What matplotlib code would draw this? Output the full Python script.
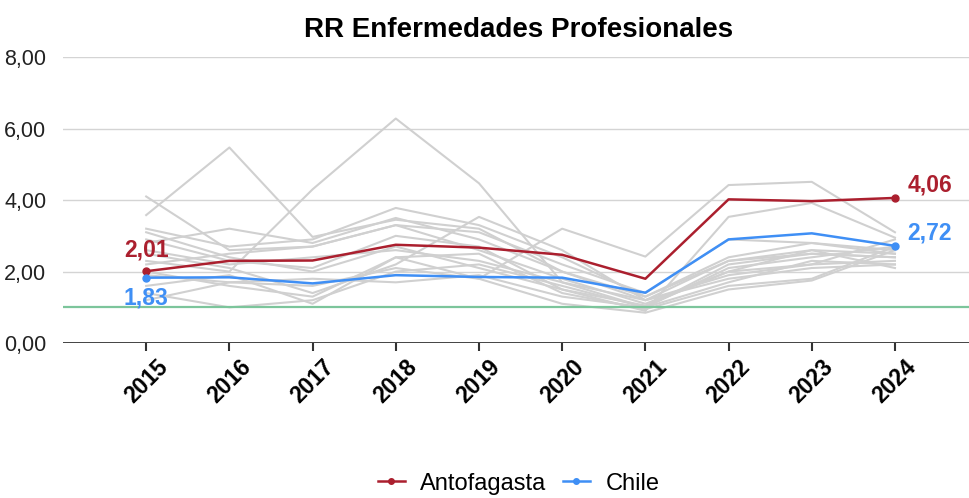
import numpy as np
import matplotlib.pyplot as plt
from matplotlib.ticker import FuncFormatter

plt.rcParams['font.family'] = ['Liberation Sans', 'DejaVu Sans']

#------------datos------------#
years = ['2015', '2016', '2017', '2018', '2019', '2020', '2021', '2022', '2023', '2024']

antofagasta = [2.01, 2.30, 2.31, 2.75, 2.67, 2.47, 1.80, 4.02, 3.97, 4.06]
chile = [1.83, 1.84, 1.67, 1.90, 1.85, 1.83, 1.41, 2.90, 3.07, 2.72]

# otras regiones (gris)
otras = [
    [3.58, 5.47, 2.97, 3.45, 3.20, 2.00, 1.30, 2.30, 2.60, 2.50],
    [4.10, 2.60, 2.70, 3.30, 3.10, 2.20, 1.40, 2.90, 2.80, 2.60],
    [2.30, 2.00, 4.30, 6.28, 4.47, 1.70, 1.00, 2.10, 2.40, 2.70],
    [2.50, 2.10, 1.40, 2.20, 3.53, 2.60, 1.20, 1.90, 2.20, 2.90],
    [3.20, 2.70, 2.90, 3.78, 3.30, 2.40, 1.30, 2.40, 2.80, 2.50],
    [2.80, 3.20, 2.80, 3.50, 2.90, 2.00, 1.20, 2.30, 2.50, 2.40],
    [2.20, 2.50, 2.70, 3.30, 2.60, 1.80, 1.10, 2.00, 2.20, 2.30],
    [1.60, 1.90, 1.10, 2.40, 2.50, 1.40, 0.95, 1.60, 1.80, 2.70],
    [1.40, 1.00, 1.20, 2.00, 2.20, 1.60, 1.00, 1.70, 2.30, 2.20],
    [2.00, 1.60, 1.30, 2.40, 1.80, 3.20, 2.42, 4.42, 4.51, 3.10],
    [3.10, 2.40, 2.00, 2.70, 2.10, 1.50, 0.90, 3.53, 3.92, 2.95],
    [1.90, 1.70, 1.80, 1.70, 1.90, 1.30, 1.00, 2.20, 2.50, 2.40],
    [2.60, 2.20, 2.40, 2.60, 2.30, 1.70, 1.20, 1.80, 2.10, 2.20],
    [1.20, 1.70, 1.60, 2.10, 1.80, 1.10, 0.85, 1.50, 1.75, 2.60],
    [2.90, 2.30, 2.10, 3.00, 2.70, 1.50, 1.05, 2.00, 2.60, 2.10],
]

referencia = 1.0
rojo = '#ab1f2e'
azul = '#3f8ff5'

#------------grafico------------#
fig = plt.figure(figsize=(9.69, 4.98), dpi=100)
ax = fig.add_axes([0.065, 0.311, 0.935, 0.5745])
x = np.arange(len(years))

for s in otras:
    ax.plot(x, s, color='#d0d0d0', lw=1.5, zorder=2)

ax.axhline(referencia, color='#7cc59b', lw=1.6, zorder=3)

ax.plot(x, antofagasta, color=rojo, lw=1.8, zorder=5, marker='o', ms=5,
        markevery=[0, len(x) - 1], label='Antofagasta')
ax.plot(x, chile, color=azul, lw=1.8, zorder=5, marker='o', ms=5,
        markevery=[0, len(x) - 1], label='Chile')

def fmt(v):
    return f'{v:.2f}'.replace('.', ',')

lab = dict(fontsize=16.5, fontweight='bold', zorder=6)
ax.annotate(fmt(antofagasta[0]), (x[0], antofagasta[0]), xytext=(0, 7),
            textcoords='offset points', ha='center', va='bottom', color=rojo, **lab)
ax.annotate(fmt(chile[0]), (x[0], chile[0]), xytext=(0, -6),
            textcoords='offset points', ha='center', va='top', color=azul, **lab)
ax.annotate(fmt(antofagasta[-1]), (x[-1], antofagasta[-1]), xytext=(9, 1),
            textcoords='offset points', ha='left', va='bottom', color=rojo, **lab)
ax.annotate(fmt(chile[-1]), (x[-1], chile[-1]), xytext=(9, 1),
            textcoords='offset points', ha='left', va='bottom', color=azul, **lab)

ax.set_ylim(0, 8)
ax.set_xlim(-1.0, 9.89)
ax.set_yticks([0, 2, 4, 6, 8])
ax.yaxis.set_major_formatter(FuncFormatter(lambda v, p: fmt(v)))
ax.grid(axis='y', color='#d4d4d4', lw=1)
ax.set_axisbelow(True)
ax.axhline(0, color='#333333', lw=2, zorder=4)

ax.set_xticks(x)
ax.set_xticklabels(years, rotation=45, fontsize=16.5, fontweight='bold')
ax.tick_params(axis='x', length=6, width=1.5, color='#333333', pad=3)
ax.tick_params(axis='y', length=0, labelsize=15.5, pad=12, labelcolor='#222222')
for sp in ax.spines.values():
    sp.set_visible(False)

fig.suptitle('RR Enfermedades Profesionales', x=0.535, y=0.965,
             fontsize=20, fontweight='bold')

fig.legend(loc='lower center', bbox_to_anchor=(0.535, -0.036), ncol=2,
           frameon=False, fontsize=17, handlelength=1.15, handletextpad=0.65,
           columnspacing=0.7, markerscale=0.8)

fig.savefig('out.png', dpi=100)
